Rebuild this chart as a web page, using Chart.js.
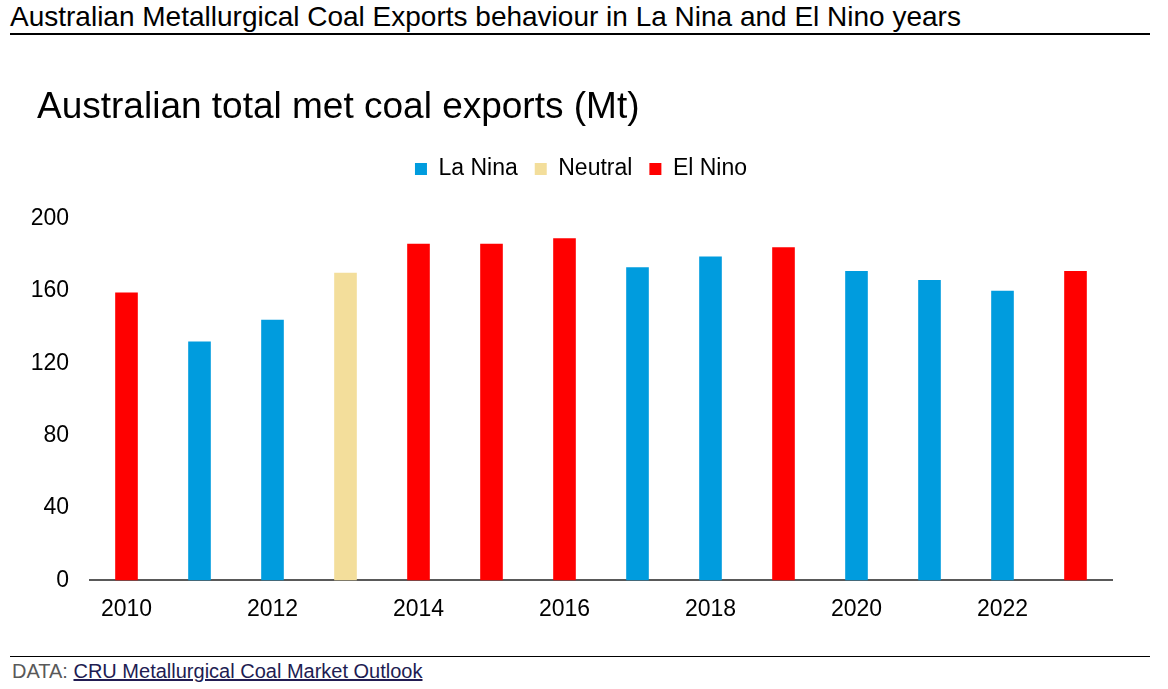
<!DOCTYPE html>
<html>

<head>
    <meta charset="utf-8">
    <title>Met coal exports</title>
    <script src="https://cdn.jsdelivr.net/npm/chart.js@4.4.1/dist/chart.umd.min.js"></script>
    <style>
        body {
            margin: 0;
            width: 1168px;
            height: 689px;
            background: #fff;
            font-family: "Liberation Sans", Arial, sans-serif;
            position: relative;
            overflow: hidden;
        }

        #head {
            position: absolute;
            left: 10px;
            top: 3px;
            width: 1140px;
            font-size: 28px;
            line-height: 28px;
            color: #000;
            border-bottom: 2px solid #000;
            padding-bottom: 2px;
        }

        #box {
            position: absolute;
            left: 0;
            top: 45px;
            width: 1168px;
            height: 600px;
        }

        #foot {
            position: absolute;
            left: 10px;
            top: 656px;
            width: 1138px;
            border-top: 1px solid #000;
            font-size: 20px;
            line-height: 22px;
            color: #595959;
            padding: 3px 0 0 2px;
        }

        #foot a {
            color: #211c52;
        }
    </style>
</head>

<body>
    <div id="head">Australian Metallurgical Coal Exports behaviour in La Nina and El Nino years</div>
    <div id="box">
        <canvas id="canvas"></canvas>
    </div>
    <div id="foot">DATA: <a href="#">CRU Metallurgical Coal Market Outlook</a></div>

    <script>
        // years on the x axis
        const years = ['2010', '2011', '2012', '2013', '2014', '2015', '2016',
            '2017', '2018', '2019', '2020', '2021', '2022', '2023'];

        // exports in Mt, one array per ENSO phase (null = other phase that year)
        const laNina = [null, 132, 144, null, null, null, null, 173, 179, null, 171, 166, 160, null];
        const neutral = [null, null, null, 170, null, null, null, null, null, null, null, null, null, null];
        const elNino = [159, null, null, null, 186, 186, 189, null, null, 184, null, null, null, 171];

        const yTicks = [0, 40, 80, 120, 160, 200];

        // legend gets extra room underneath; title and legend nudged right a bit
        const blockTweak = {
            id: 'blockTweak',
            beforeInit(chart) {
                const fit = chart.legend.fit;
                chart.legend.fit = function () {
                    fit.bind(chart.legend)();
                    this.height += 28;
                };
            },
            afterLayout(chart) {
                chart.legend.left += 11;
                chart.legend.right += 11;
                chart.titleBlock.left += 9;
                chart.titleBlock.right += 9;
            }
        };

        const font = { family: '"Liberation Sans", Arial, sans-serif' };

        new Chart(document.getElementById('canvas'), {
            type: 'bar',
            data: {
                labels: years,
                datasets: [
                    { label: 'La Nina', data: laNina, backgroundColor: '#009cde' },
                    { label: 'Neutral', data: neutral, backgroundColor: '#f3de9b' },
                    { label: 'El Nino', data: elNino, backgroundColor: '#ff0000' }
                ]
            },
            options: {
                responsive: true,
                maintainAspectRatio: false,
                animation: false,
                grouped: false,
                categoryPercentage: 1,
                barPercentage: 0.31,
                layout: { padding: { left: 28, right: 56, top: 0, bottom: 7 } },
                plugins: {
                    title: {
                        display: true,
                        text: 'Australian total met coal exports (Mt)',
                        align: 'start',
                        color: '#000',
                        font: { ...font, size: 37, weight: 'normal' },
                        padding: { top: 41, bottom: 10 }
                    },
                    legend: {
                        display: true,
                        labels: {
                            color: '#000',
                            font: { ...font, size: 23 },
                            boxWidth: 12,
                            boxHeight: 12,
                            padding: 17
                        }
                    },
                    tooltip: { enabled: false }
                },
                scales: {
                    x: {
                        grid: { display: false, drawTicks: false },
                        border: { color: '#595959', width: 2 },
                        ticks: {
                            color: '#000',
                            font: { ...font, size: 23 },
                            padding: 15,
                            autoSkip: false,
                            maxRotation: 0,
                            callback: function (v, i) { return i % 2 === 0 ? years[i] : ''; }
                        }
                    },
                    y: {
                        min: 0,
                        max: 200,
                        grid: { display: false, drawTicks: false },
                        border: { display: false },
                        afterBuildTicks: function (axis) {
                            axis.ticks = yTicks.map(v => ({ value: v }));
                        },
                        afterFit: function (axis) {
                            axis.width = 62;
                        },
                        ticks: {
                            color: '#000',
                            font: { ...font, size: 23 },
                            padding: 21
                        }
                    }
                }
            },
            plugins: [blockTweak]
        });
    </script>
</body>

</html>
